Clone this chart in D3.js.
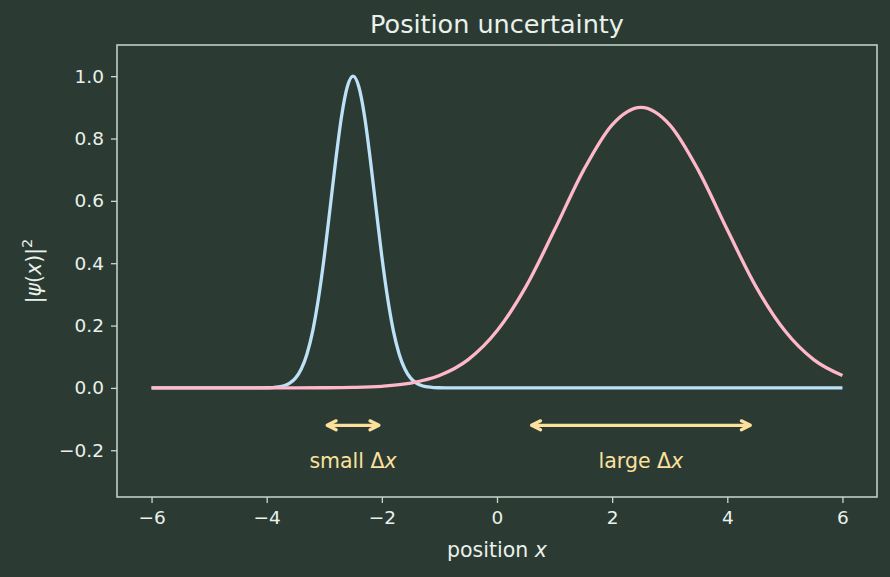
<!DOCTYPE html>
<html>
<head>
<meta charset="utf-8">
<script src="https://cdn.jsdelivr.net/npm/d3@7/dist/d3.min.js"></script>
<style>
  html, body { margin: 0; padding: 0; background: #2b3b34; }
  svg text { font-family: "DejaVu Sans", sans-serif; }
</style>
</head>
<body>
<div id="chart"></div>
<script>
// narrow packet (blue)
let narrowX = [-6, -5, -4.5, -4.2, -4.1, -4.0, -3.9, -3.8, -3.7, -3.6, -3.5, -3.4, -3.3, -3.2, -3.1, -3.0, -2.9, -2.8, -2.7, -2.6, -2.5,
	-2.4, -2.3, -2.2, -2.1, -2.0, -1.9, -1.8, -1.7, -1.6, -1.5, -1.4, -1.3, -1.2, -1.1, -1.0, -0.9, -0.8, 0, 2, 4, 6];
let narrowY = [0, 0, 0, 0, 0.0001, 0.0004, 0.0011, 0.0029, 0.0068, 0.0152, 0.0313, 0.0605, 0.109, 0.183, 0.288, 0.421, 0.575, 0.732, 0.871, 0.966, 1.0,
	0.966, 0.871, 0.732, 0.575, 0.421, 0.288, 0.183, 0.109, 0.0605, 0.0313, 0.0152, 0.0068, 0.0029, 0.0011, 0.0004, 0.0001, 0, 0, 0, 0, 0];
// wide packet (pink)
let wideX = [-6, -5.5, -5, -4.5, -4, -3.5, -3, -2.5, -2, -1.5, -1, -0.5, 0, 0.5, 1, 1.5, 2, 2.5, 3, 3.5, 4, 4.5, 5, 5.5, 6];
let wideY = [0, 0, 0, 0, 0, 0.0001, 0.0004, 0.0015, 0.0051, 0.0152, 0.0395, 0.0906, 0.183, 0.324, 0.507, 0.697, 0.844, 0.9,
	0.844, 0.697, 0.507, 0.324, 0.183, 0.0906, 0.0395];

let xTicks = [-6, -4, -2, 0, 2, 4, 6];
let yTicks = [-0.2, 0.0, 0.2, 0.4, 0.6, 0.8, 1.0];

// arrows: [x0, x1, y], labels: [text, x, y]
let arrowSpans = [[-2.95, -2.05, -0.12], [0.6, 4.4, -0.12]];
let arrowLabels = [["small ", -2.5, -0.235], ["large ", 2.5, -0.235]];

let bg = "#2b3b34", fg = "#eaf1ea", spine = "#c8d9cd";
let blue = "#bde2f8", pink = "#ffb7c9", gold = "#fbe19c";

let canvasWidth = 890, canvasHeight = 577;
let margin = { top: 45, right: 13, bottom: 80, left: 117 };
let width = canvasWidth - margin.left - margin.right;
let height = canvasHeight - margin.top - margin.bottom;

let x = d3.scaleLinear().domain([-6.6, 6.6]).range([0, width]);
let y = d3.scaleLinear().domain([-0.35, 1.1]).range([height, 0]);

let root = d3.select("#chart").append("svg")
	.attr("width", canvasWidth)
	.attr("height", canvasHeight)
	.style("display", "block");

root.append("rect").attr("width", canvasWidth).attr("height", canvasHeight).attr("fill", bg);

let svg = root.append("g").attr("transform", "translate(" + margin.left + "," + margin.top + ")");

let line = d3.line().x((d) => x(d[0])).y((d) => y(d[1])).curve(d3.curveMonotoneX);

let narrow = d3.zip(narrowX, narrowY);
let wide = d3.zip(wideX, wideY);

svg.append("path").datum(narrow)
	.attr("d", line).attr("fill", "none").attr("stroke", blue).attr("stroke-width", 3.3);
svg.append("path").datum(wide)
	.attr("d", line).attr("fill", "none").attr("stroke", pink).attr("stroke-width", 3.3);

// double-headed arrows
arrowSpans.forEach((a) => {
	let x0 = x(a[0]), x1 = x(a[1]), yy = y(a[2]);
	let g = svg.append("g").attr("stroke", gold).attr("stroke-width", 3.2)
		.attr("fill", "none").attr("stroke-linecap", "round").attr("stroke-linejoin", "round");
	g.append("line").attr("x1", x0 + 1).attr("x2", x1 - 1).attr("y1", yy).attr("y2", yy);
	g.append("path").attr("d", "M" + (x0 + 9) + "," + (yy - 4.5) + "L" + x0 + "," + yy + "L" + (x0 + 9) + "," + (yy + 4.5));
	g.append("path").attr("d", "M" + (x1 - 9) + "," + (yy - 4.5) + "L" + x1 + "," + yy + "L" + (x1 - 9) + "," + (yy + 4.5));
});

arrowLabels.forEach((l) => {
	let t = svg.append("text")
		.attr("x", x(l[1])).attr("y", y(l[2]) + 7)
		.attr("text-anchor", "middle")
		.attr("fill", gold).style("font-size", "20.5px");
	t.append("tspan").text(l[0] + "\u0394");
	t.append("tspan").style("font-style", "italic").text("x");
});

// axes
let xAxis = svg.append("g")
	.attr("transform", "translate(0," + height + ")")
	.call(d3.axisBottom(x).tickValues(xTicks).tickSize(6).tickPadding(8)
		.tickFormat((d) => d3.format("d")(d).replace("-", "\u2212")));
let yAxis = svg.append("g")
	.call(d3.axisLeft(y).tickValues(yTicks).tickSize(6).tickPadding(7)
		.tickFormat((d) => d3.format(".1f")(d).replace("-", "\u2212")));

[xAxis, yAxis].forEach((ax) => {
	ax.select(".domain").remove();
	ax.selectAll(".tick line").attr("stroke", spine).attr("stroke-width", 1.3);
	ax.selectAll(".tick text").attr("fill", fg).style("font-size", "18.5px").style("font-family", "DejaVu Sans");
});

svg.append("rect")
	.attr("width", width).attr("height", height)
	.attr("fill", "none").attr("stroke", spine).attr("stroke-width", 1.5);

// labels
root.append("text")
	.attr("x", margin.left + width / 2).attr("y", 33)
	.attr("text-anchor", "middle").attr("fill", fg)
	.style("font-size", "25.5px").text("Position uncertainty");

let xl = root.append("text")
	.attr("x", margin.left + width / 2).attr("y", 557)
	.attr("text-anchor", "middle").attr("fill", fg)
	.style("font-size", "20.5px");
xl.append("tspan").text("position ");
xl.append("tspan").style("font-style", "italic").text("x");

let yl = root.append("text")
	.attr("transform", "translate(41," + (margin.top + height / 2) + ") rotate(-90)")
	.attr("text-anchor", "middle").attr("fill", fg)
	.style("font-size", "20.5px");
yl.append("tspan").text("|");
yl.append("tspan").style("font-style", "italic").text("\u03c8");
yl.append("tspan").text("(");
yl.append("tspan").style("font-style", "italic").text("x");
yl.append("tspan").text(")|");
yl.append("tspan").attr("dy", -9).style("font-size", "14.5px").text("2");
</script>
</body>
</html>
